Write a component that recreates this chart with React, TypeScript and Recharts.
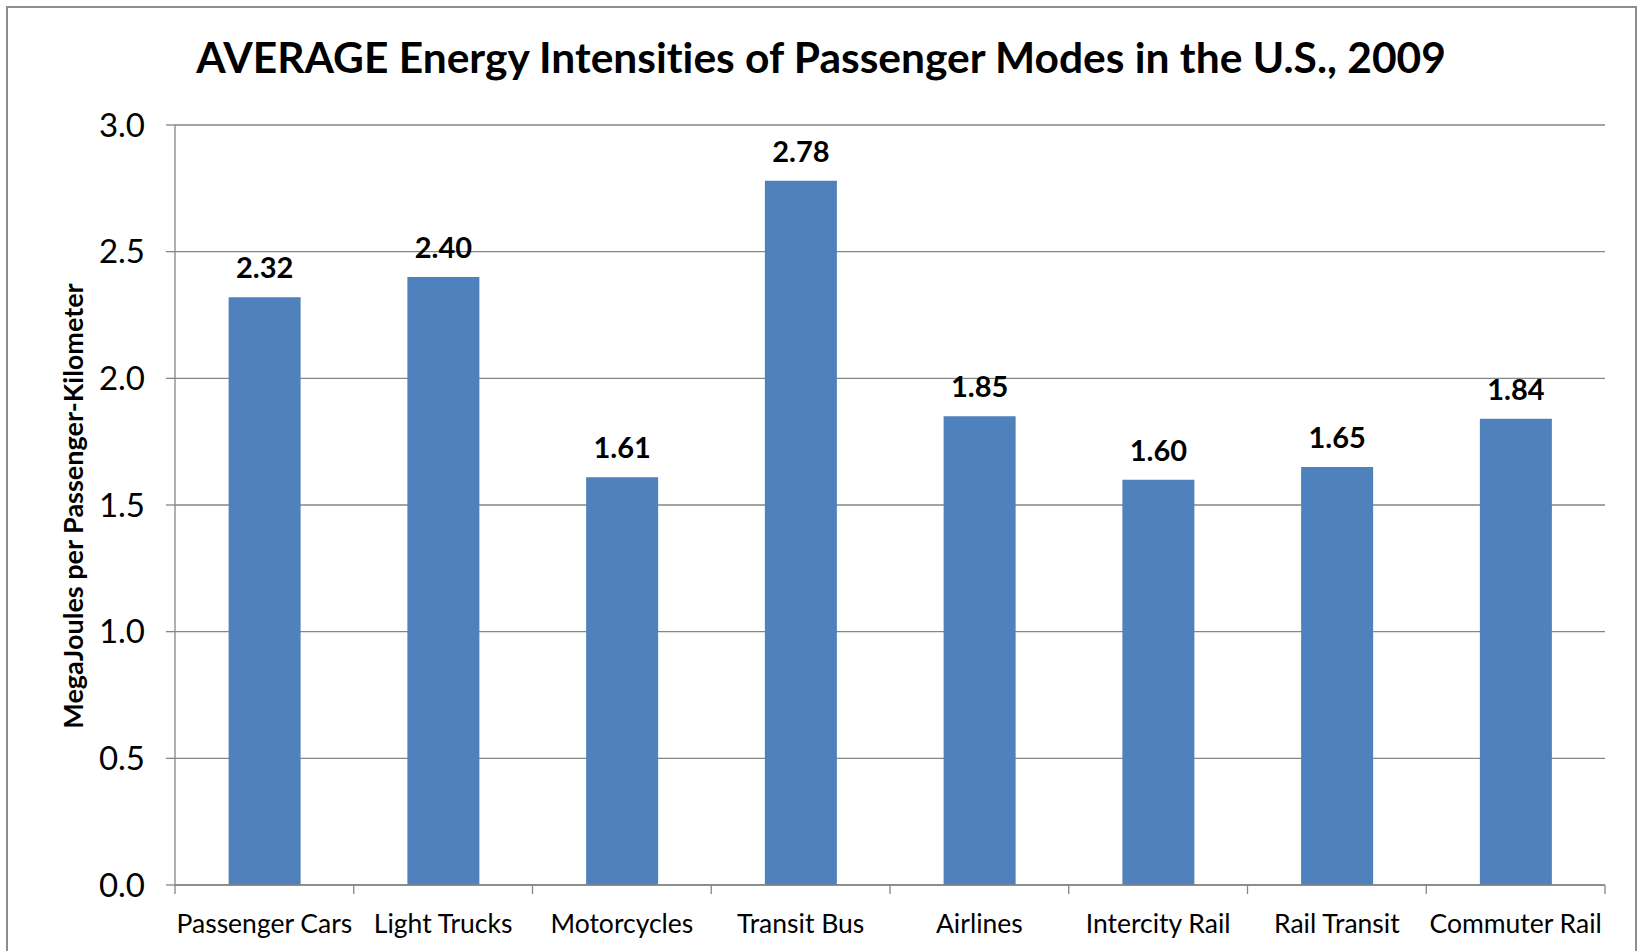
import React from 'react';
import { BarChart, Bar, XAxis, YAxis, CartesianGrid, LabelList } from 'recharts';

// Average energy intensity by passenger mode, U.S. 2009 (MJ per passenger-km)
const modes = [
  'Passenger Cars',
  'Light Trucks',
  'Motorcycles',
  'Transit Bus',
  'Airlines',
  'Intercity Rail',
  'Rail Transit',
  'Commuter Rail',
];
const intensities = [2.32, 2.4, 1.61, 2.78, 1.85, 1.6, 1.65, 1.84];
const yTicks = [0, 0.5, 1, 1.5, 2, 2.5, 3];

const data = modes.map((mode, i) => ({ mode, value: intensities[i] }));

const FONT = "Lato, 'Open Sans', sans-serif";
const GRAY = '#868686';
const BAR = '#4F81BD';
const X_TICK_MARGIN = 29;
const X_TICK_LEN = 9;
const NO_LIGA = { fontVariantLigatures: 'none' as const, fontFeatureSettings: '"liga" 0' };

// Category label plus the small tick marks on the band boundaries
function ModeTick(props: any) {
  const { x, y, payload, index } = props;
  const half = payload?.offset ?? 0;
  const axisY = y - X_TICK_MARGIN;
  const last = index === modes.length - 1;
  return (
    <g>
      <line x1={x - half} x2={x - half} y1={axisY} y2={axisY + X_TICK_LEN} stroke={GRAY} strokeWidth={1.3} />
      {last && (
        <line x1={x + half} x2={x + half} y1={axisY} y2={axisY + X_TICK_LEN} stroke={GRAY} strokeWidth={1.3} />
      )}
      <text
        x={x}
        y={y}
        dy="0.71em"
        textAnchor="middle"
        fontFamily={FONT}
        fontSize={26.5}
        fill="#000"
        style={NO_LIGA}
      >
        {payload.value}
      </text>
    </g>
  );
}

export default function App() {
  return (
    <div
      style={{
        position: 'fixed',
        left: 0,
        top: 0,
        width: 1643,
        height: 951,
        overflow: 'hidden',
        background: '#fff',
        fontFamily: FONT,
      }}
    >
      <div style={{ position: 'absolute', left: 0, top: 0 }}>
        <BarChart
          width={1643}
          height={951}
          data={data}
          margin={{ top: 125, right: 38, bottom: 26, left: 0 }}
          barCategoryGap="30%"
        >
          <CartesianGrid vertical={false} stroke={GRAY} strokeWidth={1.3} />
          <XAxis
            dataKey="mode"
            height={40}
            tickLine={false}
            tickSize={0}
            tickMargin={X_TICK_MARGIN}
            axisLine={{ stroke: GRAY, strokeWidth: 1.3 }}
            tick={<ModeTick />}
            interval={0}
          />
          <YAxis
            width={175}
            domain={[0, 3]}
            ticks={yTicks}
            tickFormatter={(v: number) => v.toFixed(1)}
            tickSize={9}
            tickMargin={21}
            axisLine={{ stroke: GRAY, strokeWidth: 1.3 }}
            tickLine={{ stroke: GRAY, strokeWidth: 1.3 }}
            tick={{ fontSize: 33, fill: '#000', fontFamily: FONT }}
          />
          <Bar dataKey="value" fill={BAR} isAnimationActive={false}>
            <LabelList
              dataKey="value"
              position="top"
              offset={19}
              formatter={(v: number) => v.toFixed(2)}
              style={{ fontSize: 29, fontWeight: 700, fill: '#000', fontFamily: FONT }}
            />
          </Bar>
        </BarChart>
      </div>
      <svg
        width={1643}
        height={951}
        style={{ position: 'absolute', left: 0, top: 0, pointerEvents: 'none' }}
      >
        <text
          x={821}
          y={73}
          textAnchor="middle"
          fontFamily={FONT}
          fontWeight={700}
          fontSize={42.5}
          fill="#000"
          style={NO_LIGA}
        >
          AVERAGE Energy Intensities of Passenger Modes in the U.S., 2009
        </text>
        <text
          transform="translate(83,506) rotate(-90)"
          textAnchor="middle"
          fontFamily={FONT}
          fontWeight={700}
          fontSize={27}
          fill="#000"
        >
          MegaJoules per Passenger-Kilometer
        </text>
      </svg>
      <div
        style={{
          position: 'absolute',
          left: 6,
          top: 6,
          width: 1631,
          height: 1000,
          boxSizing: 'border-box',
          border: '2px solid #8d8d8d',
          pointerEvents: 'none',
        }}
      />
    </div>
  );
}
